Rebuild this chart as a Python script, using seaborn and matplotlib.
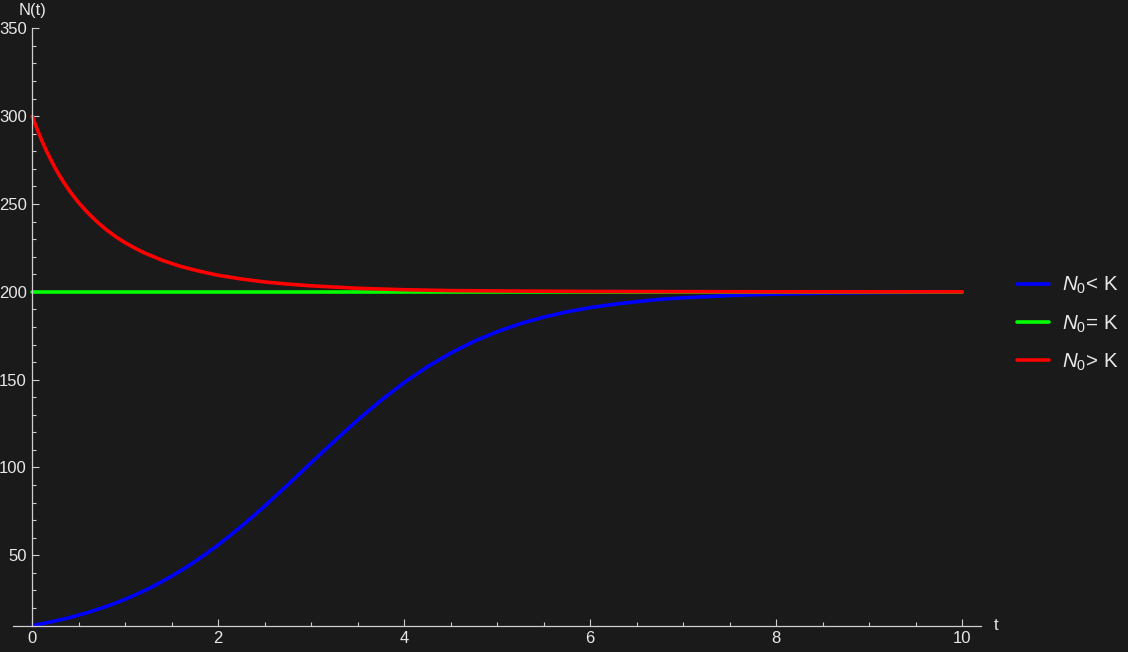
import numpy as np
import pandas as pd
import matplotlib
matplotlib.use("Agg")
import matplotlib.pyplot as plt
import seaborn as sns
from matplotlib.ticker import MultipleLocator, FixedLocator

# ---- data ----
t_low = [0, 0.125, 0.25, 0.375, 0.5, 0.625, 0.75, 0.875, 1, 1.125, 1.25, 1.375,
         1.5, 1.625, 1.75, 1.875, 2, 2.125, 2.25, 2.375, 2.5, 2.625, 2.75, 2.875,
         3, 3.25, 3.5, 3.75, 4, 4.25, 4.5, 4.75, 5, 5.25, 5.5, 5.75, 6, 6.25, 6.5,
         6.75, 7, 7.5, 8, 8.5, 9, 9.5, 10]
n_low = [10.0, 11.3, 12.7, 14.2, 16.0, 17.9, 20.1, 22.4, 25.0, 27.9, 31.0, 34.5,
         38.2, 42.2, 46.5, 51.1, 56.0, 61.2, 66.6, 72.3, 78.1, 84.2, 90.3, 96.5,
         102.8, 115.1, 127.1, 138.2, 148.4, 157.4, 165.1, 171.8, 177.3, 181.9,
         185.6, 188.6, 191.0, 192.9, 194.4, 195.7, 196.6, 197.9, 198.7, 199.2,
         199.5, 199.7, 199.8]

t_eq = [0, 10]
n_eq = [200, 200]

t_high = [0, 0.05, 0.1, 0.15, 0.2, 0.25, 0.3, 0.35, 0.4, 0.45, 0.5, 0.6, 0.7,
          0.8, 0.9, 1, 1.1, 1.2, 1.4, 1.6, 1.8, 2, 2.25, 2.5, 2.75, 3, 3.5, 4,
          4.5, 5, 6, 7, 8, 9, 10]
n_high = [300.0, 292.9, 286.4, 280.5, 275.1, 270.1, 265.6, 261.4, 257.5, 254.0,
          250.7, 244.8, 239.7, 235.2, 231.3, 227.9, 225.0, 222.3, 217.9, 214.4,
          211.7, 209.4, 207.3, 205.6, 204.4, 203.4, 202.0, 201.2, 200.7, 200.5,
          200.2, 200.1, 200.0, 200.0, 200.0]

series_labels = [r"$N_0$< K", r"$N_0$= K", r"$N_0$> K"]
series_colors = ["#0000ff", "#00ff00", "#ff0000"]
x_major = [0, 2, 4, 6, 8, 10]
y_major = [50, 100, 150, 200, 250, 300, 350]

# ---- style ----
bg = "#1a1a1a"
axis_col = "#cfcfcf"
text_col = "#e8e8e8"
sns.set_theme(style="ticks")
plt.rcParams["font.family"] = ["Liberation Sans", "DejaVu Sans"]
plt.rcParams["mathtext.fontset"] = "custom"
plt.rcParams["mathtext.it"] = "Liberation Sans:italic"
plt.rcParams["mathtext.rm"] = "Liberation Sans"
plt.rcParams["mathtext.bf"] = "Liberation Sans:bold"

df = pd.concat([
    pd.DataFrame({"t": t_low, "N": n_low, "series": series_labels[0]}),
    pd.DataFrame({"t": t_eq, "N": n_eq, "series": series_labels[1]}),
    pd.DataFrame({"t": t_high, "N": n_high, "series": series_labels[2]}),
], ignore_index=True)

W, H = 1128, 652
fig = plt.figure(figsize=(W / 100, H / 100), dpi=100, facecolor=bg)
ax_l, ax_r = 13.3 / W, 980.7 / W
ax_b, ax_t = (H - 626.3) / H, (H - 28.3) / H
ax = fig.add_axes([ax_l, ax_b, ax_r - ax_l, ax_t - ax_b])
ax.set_facecolor(bg)

sns.lineplot(data=df, x="t", y="N", hue="series", hue_order=series_labels,
             palette=series_colors, estimator=None, sort=False,
             linewidth=2.6, ax=ax)

ax.set_xlim(-0.204, 10.2)
ax.set_ylim(9.6, 350)

for s in ["top", "right"]:
    ax.spines[s].set_visible(False)
ax.spines["left"].set_position(("data", 0))
for s in ["left", "bottom"]:
    ax.spines[s].set_color(axis_col)
    ax.spines[s].set_linewidth(0.9)

fs_tick = 12
ax.xaxis.set_major_locator(FixedLocator(x_major))
ax.xaxis.set_minor_locator(MultipleLocator(0.5))
ax.yaxis.set_major_locator(FixedLocator(y_major))
ax.yaxis.set_minor_locator(MultipleLocator(10))
ax.tick_params(which="both", direction="in", color=axis_col, width=0.8,
               labelcolor=text_col, labelsize=fs_tick)
ax.tick_params(which="major", length=4.8)
ax.tick_params(which="minor", length=3.2)
ax.tick_params(axis="x", which="major", pad=3.6)
ax.tick_params(axis="y", which="major", pad=4)
ax.set_xlabel("")
ax.set_ylabel("")

ax.annotate("N(t)", xy=(0, 1), xycoords=("data", "axes fraction"),
            xytext=(0, 18), textcoords="offset pixels", ha="center",
            va="center", color=text_col, fontsize=fs_tick)
ax.annotate("t", xy=(1, 0), xycoords="axes fraction",
            xytext=(13, 1), textcoords="offset pixels", ha="left",
            va="center", color=text_col, fontsize=fs_tick)

handles, labels = ax.get_legend_handles_labels()
ax.get_legend().remove()
for h in handles:
    h.set_linewidth(2.6)
fs_leg = 14.8
fig.legend(handles, labels, loc="center left",
           bbox_to_anchor=(1017 / W, (H - 324) / H), frameon=False,
           fontsize=fs_leg, labelcolor=text_col, handlelength=1.57,
           handletextpad=0.6, labelspacing=0.82, borderpad=0,
           borderaxespad=0)

fig.savefig("out.png", dpi=100, facecolor=bg)
